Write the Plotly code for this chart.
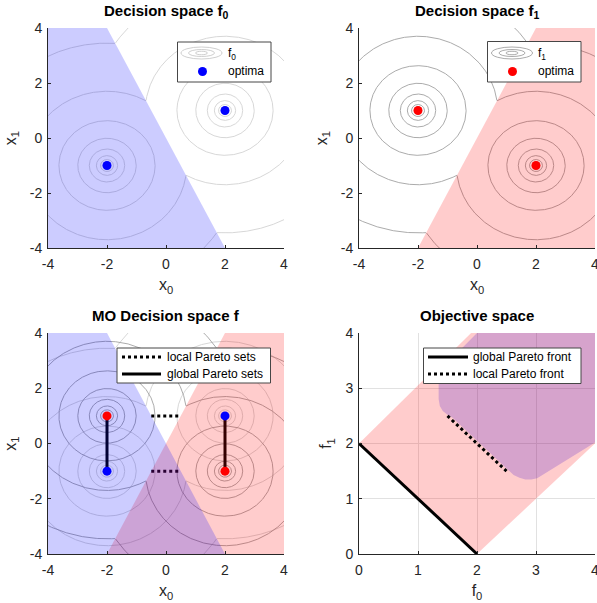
import numpy as np
import plotly.graph_objects as go

W, H = 597, 603

# ---------------- data ----------------
f0_global = (-2.0, -1.0)
f0_local = (2.0, 1.0)
f1_global = (2.0, -1.0)
f1_local = (-2.0, 1.0)
contour_radii = [0.22, 0.36, 0.60, 0.99, 1.63, 2.70, 4.45]

f0_region_x = [-4.0, -2.0, 2.0, -4.0]
f0_region_y = [4.0, 4.0, -4.0, -4.0]
f1_region_x = [-2.0, 2.0, 4.0, 4.0]
f1_region_y = [-4.0, 4.0, 4.0, -4.0]

local_sets_x = [[-0.5, 0.5], [-0.5, 0.5]]
local_sets_y = [[1.0, 1.0], [-1.0, -1.0]]
global_sets_x = [[-2.0, -2.0], [2.0, 2.0]]
global_sets_y = [[-1.0, 1.0], [1.0, -1.0]]

obj_feasible_f0 = [0.0, 2.0, 4.0, 4.0, 1.9]
obj_feasible_f1 = [2.0, 0.0, 2.0, 4.0, 4.0]
obj_local_f0 = [2.0, 1.35, 1.35, 1.37, 1.42, 1.50, 1.58, 2.62, 2.72, 2.82, 2.92, 3.02, 4.0, 4.0]
obj_local_f1 = [4.0, 3.30, 2.80, 2.68, 2.59, 2.52, 2.47, 1.43, 1.38, 1.35, 1.35, 1.37, 2.02, 4.0]

global_front_f0 = [0.0, 2.0]
global_front_f1 = [2.0, 0.0]
local_front_f0 = [1.5, 2.5]
local_front_f1 = [2.5, 1.5]

dec_ticks = [-4, -2, 0, 2, 4]
dec_ticktext = ["-4", "-2", "0", "2", "4"]
obj_ticks = [0, 1, 2, 3, 4]
obj_ticktext = ["0", "1", "2", "3", "4"]

titles = ["<b>Decision space f<sub>0</sub></b>", "<b>Decision space f<sub>1</sub></b>",
          "<b>MO Decision space f</b>", "<b>Objective space</b>"]

# ---------------- style ----------------
FONT = "Liberation Sans, Arial, Helvetica, sans-serif"
AX = "rgb(38,38,38)"
BLUE_FILL = "rgba(0,0,255,0.2)"
RED_FILL = "rgba(255,0,0,0.2)"
F0_RING = "rgb(205,205,205)"
F1_RING = "rgb(150,150,150)"

# panel pixel boxes (left, top, right, bottom)
boxes = [(48, 28, 284, 248), (359, 28, 595, 248), (48, 333, 284, 554), (359, 333, 595, 554)]


def px(xp):
    return xp / W


def py(yp):
    return 1 - yp / H


fig = go.Figure()


def rings(center, other, color, k, width=0.8):
    t = np.linspace(0, 2 * np.pi, 1441)
    xs, ys = [], []
    for r in contour_radii:
        x = center[0] + r * np.cos(t)
        y = center[1] + r * np.sin(t)
        keep = np.hypot(x - center[0], y - center[1]) <= np.hypot(x - other[0], y - other[1]) + 1e-9
        x = np.where(keep, x, np.nan)
        y = np.where(keep, y, np.nan)
        xs.extend(list(x) + [np.nan])
        ys.extend(list(y) + [np.nan])
    fig.add_trace(go.Scatter(x=xs, y=ys, mode="lines", line=dict(color=color, width=width),
                             hoverinfo="skip", showlegend=False,
                             xaxis=f"x{k}", yaxis=f"y{k}"))


def fill(xv, yv, color, k):
    fig.add_trace(go.Scatter(x=xv + [xv[0]], y=yv + [yv[0]], mode="lines", fill="toself",
                             fillcolor=color, line=dict(width=0), hoverinfo="skip",
                             showlegend=False, xaxis=f"x{k}", yaxis=f"y{k}"))


def dots(pts, color, k):
    fig.add_trace(go.Scatter(x=[p[0] for p in pts], y=[p[1] for p in pts], mode="markers",
                             marker=dict(color=color, size=9, line=dict(width=0)),
                             hoverinfo="skip", showlegend=False, xaxis=f"x{k}", yaxis=f"y{k}"))


def seg(xv, yv, k, dash="solid"):
    fig.add_trace(go.Scatter(x=xv, y=yv, mode="lines", line=dict(color="black", width=3, dash=dash),
                             hoverinfo="skip", showlegend=False, xaxis=f"x{k}", yaxis=f"y{k}"))


# Panel 1: f0
rings(f0_global, f0_local, F0_RING, "")
rings(f0_local, f0_global, F0_RING, "")
fill(f0_region_x, f0_region_y, BLUE_FILL, "")
dots([f0_global, f0_local], "rgb(0,0,255)", "")

# Panel 2: f1
rings(f1_local, f1_global, F1_RING, 2)
rings(f1_global, f1_local, F1_RING, 2)
fill(f1_region_x, f1_region_y, RED_FILL, 2)
dots([f1_global, f1_local], "rgb(255,0,0)", 2)

# Panel 3: MO decision space
rings(f0_global, f0_local, F0_RING, 3)
rings(f0_local, f0_global, F0_RING, 3)
rings(f1_local, f1_global, F1_RING, 3)
rings(f1_global, f1_local, F1_RING, 3)
for sx, sy in zip(global_sets_x, global_sets_y):
    seg(sx, sy, 3)
for sx, sy in zip(local_sets_x, local_sets_y):
    seg(sx, sy, 3, "dot")
fill(f1_region_x, f1_region_y, RED_FILL, 3)
fill(f0_region_x, f0_region_y, BLUE_FILL, 3)
dots([f0_global, f0_local], "rgb(0,0,255)", 3)
dots([f1_global, f1_local], "rgb(255,0,0)", 3)

# Panel 4: objective space
fill(obj_local_f0, obj_local_f1, BLUE_FILL, 4)
fill(obj_feasible_f0, obj_feasible_f1, RED_FILL, 4)
seg(global_front_f0, global_front_f1, 4)
seg(local_front_f0, local_front_f1, 4, "dot")

# ---------------- axes ----------------
axis_common = dict(showline=True, linecolor=AX, linewidth=1, ticks="inside", ticklen=3,
                   tickcolor=AX, tickwidth=1, zeroline=False, mirror=False, automargin=False,
                   ticklabeloverflow="allow",
                   tickfont=dict(family=FONT, size=14, color=AX), fixedrange=True)
xlabels = ["x<sub>0</sub>", "x<sub>0</sub>", "x<sub>0</sub>", "f<sub>0</sub>"]
ylabels = ["x<sub>1</sub>", "x<sub>1</sub>", "x<sub>1</sub>", "f<sub>1</sub>"]
for i, (l, t, r, b) in enumerate(boxes):
    k = "" if i == 0 else str(i + 1)
    obj = i == 3
    tv = obj_ticks if obj else dec_ticks
    tt = obj_ticktext if obj else dec_ticktext
    rng = [0, 4] if obj else [-4, 4]
    grid = dict(showgrid=True, gridcolor="rgb(225,225,225)", gridwidth=1) if obj else dict(showgrid=False)
    fig.layout[f"xaxis{k}"] = dict(domain=[px(l), px(r)], range=rng, anchor=f"y{k}",
                                   tickvals=tv, ticktext=tt, ticklabelstandoff=3,
                                   title=dict(text=xlabels[i], font=dict(family=FONT, size=16, color=AX), standoff=8),
                                   **grid, **axis_common)
    fig.layout[f"yaxis{k}"] = dict(domain=[py(b), py(t)], range=rng, anchor=f"x{k}",
                                   tickvals=tv, ticktext=tt, ticklabelstandoff=2,
                                   title=dict(text=ylabels[i], font=dict(family=FONT, size=16, color=AX), standoff=9),
                                   **grid, **axis_common)

annotations = []
shapes = []
# titles
for i, (l, t, r, b) in enumerate(boxes):
    annotations.append(dict(text=titles[i], x=px((l + r) / 2), y=py(t - 17), xref="paper", yref="paper",
                            xanchor="center", yanchor="middle", showarrow=False,
                            font=dict(family=FONT, size=15, color="black")))


def legend_box(x0, y0, x1, y1):
    shapes.append(dict(type="rect", xref="paper", yref="paper", x0=px(x0), x1=px(x1), y0=py(y1), y1=py(y0),
                       line=dict(color="rgb(70,70,70)", width=1), fillcolor="white", layer="above"))


def legend_text(x, y, text):
    annotations.append(dict(text=text, x=px(x), y=py(y), xref="paper", yref="paper", xanchor="left",
                            yanchor="middle", showarrow=False, font=dict(family=FONT, size=12, color="black")))


def legend_ellipses(cx, cy, color):
    for w, h in [(41, 12), (26, 7), (12, 3.5)]:
        shapes.append(dict(type="circle", xref="paper", yref="paper", x0=px(cx - w / 2), x1=px(cx + w / 2),
                           y0=py(cy + h / 2), y1=py(cy - h / 2), line=dict(color=color, width=0.8),
                           layer="above"))


def legend_dot(cx, cy, color):
    shapes.append(dict(type="circle", xref="paper", yref="paper", x0=px(cx - 4.5), x1=px(cx + 4.5),
                       y0=py(cy + 4.5), y1=py(cy - 4.5), line=dict(width=0), fillcolor=color, layer="above"))


def legend_line(x0, x1, y, dash):
    shapes.append(dict(type="line", xref="paper", yref="paper", x0=px(x0), x1=px(x1), y0=py(y), y1=py(y),
                       line=dict(color="black", width=3, dash=dash), layer="above"))


# legend panel 1
legend_box(177.5, 42, 271, 82)
legend_ellipses(201.5, 53, "rgb(195,195,195)")
legend_text(226, 54, "f<sub>0</sub>")
legend_dot(202.5, 71.5, "rgb(0,0,255)")
legend_text(226, 71.5, "optima")
# legend panel 2
legend_box(487.5, 41.5, 581, 82)
legend_ellipses(512, 53, "rgb(150,150,150)")
legend_text(536, 54, "f<sub>1</sub>")
legend_dot(512.5, 71.5, "rgb(255,0,0)")
legend_text(536, 71.5, "optima")
# legend panel 3
legend_box(117, 348, 270.5, 383)
legend_line(122, 161, 357, "dot")
legend_text(165, 357, "local Pareto sets")
legend_line(122, 161, 374, "solid")
legend_text(165, 374, "global Pareto sets")
# legend panel 4
legend_box(423.5, 348, 581, 383.5)
legend_line(428, 468, 357, "solid")
legend_text(471, 357, "global Pareto front")
legend_line(428, 468, 374, "dot")
legend_text(471, 374, "local Pareto front")

fig.update_layout(width=W, height=H, margin=dict(l=0, r=0, t=0, b=0, autoexpand=False),
                  paper_bgcolor="white", plot_bgcolor="white", showlegend=False,
                  annotations=annotations, shapes=shapes, font=dict(family=FONT))

fig.write_html("out.html", config={"displayModeBar": False, "staticPlot": True},
               post_script="document.body.style.margin='0px';document.body.style.overflow='hidden';")
